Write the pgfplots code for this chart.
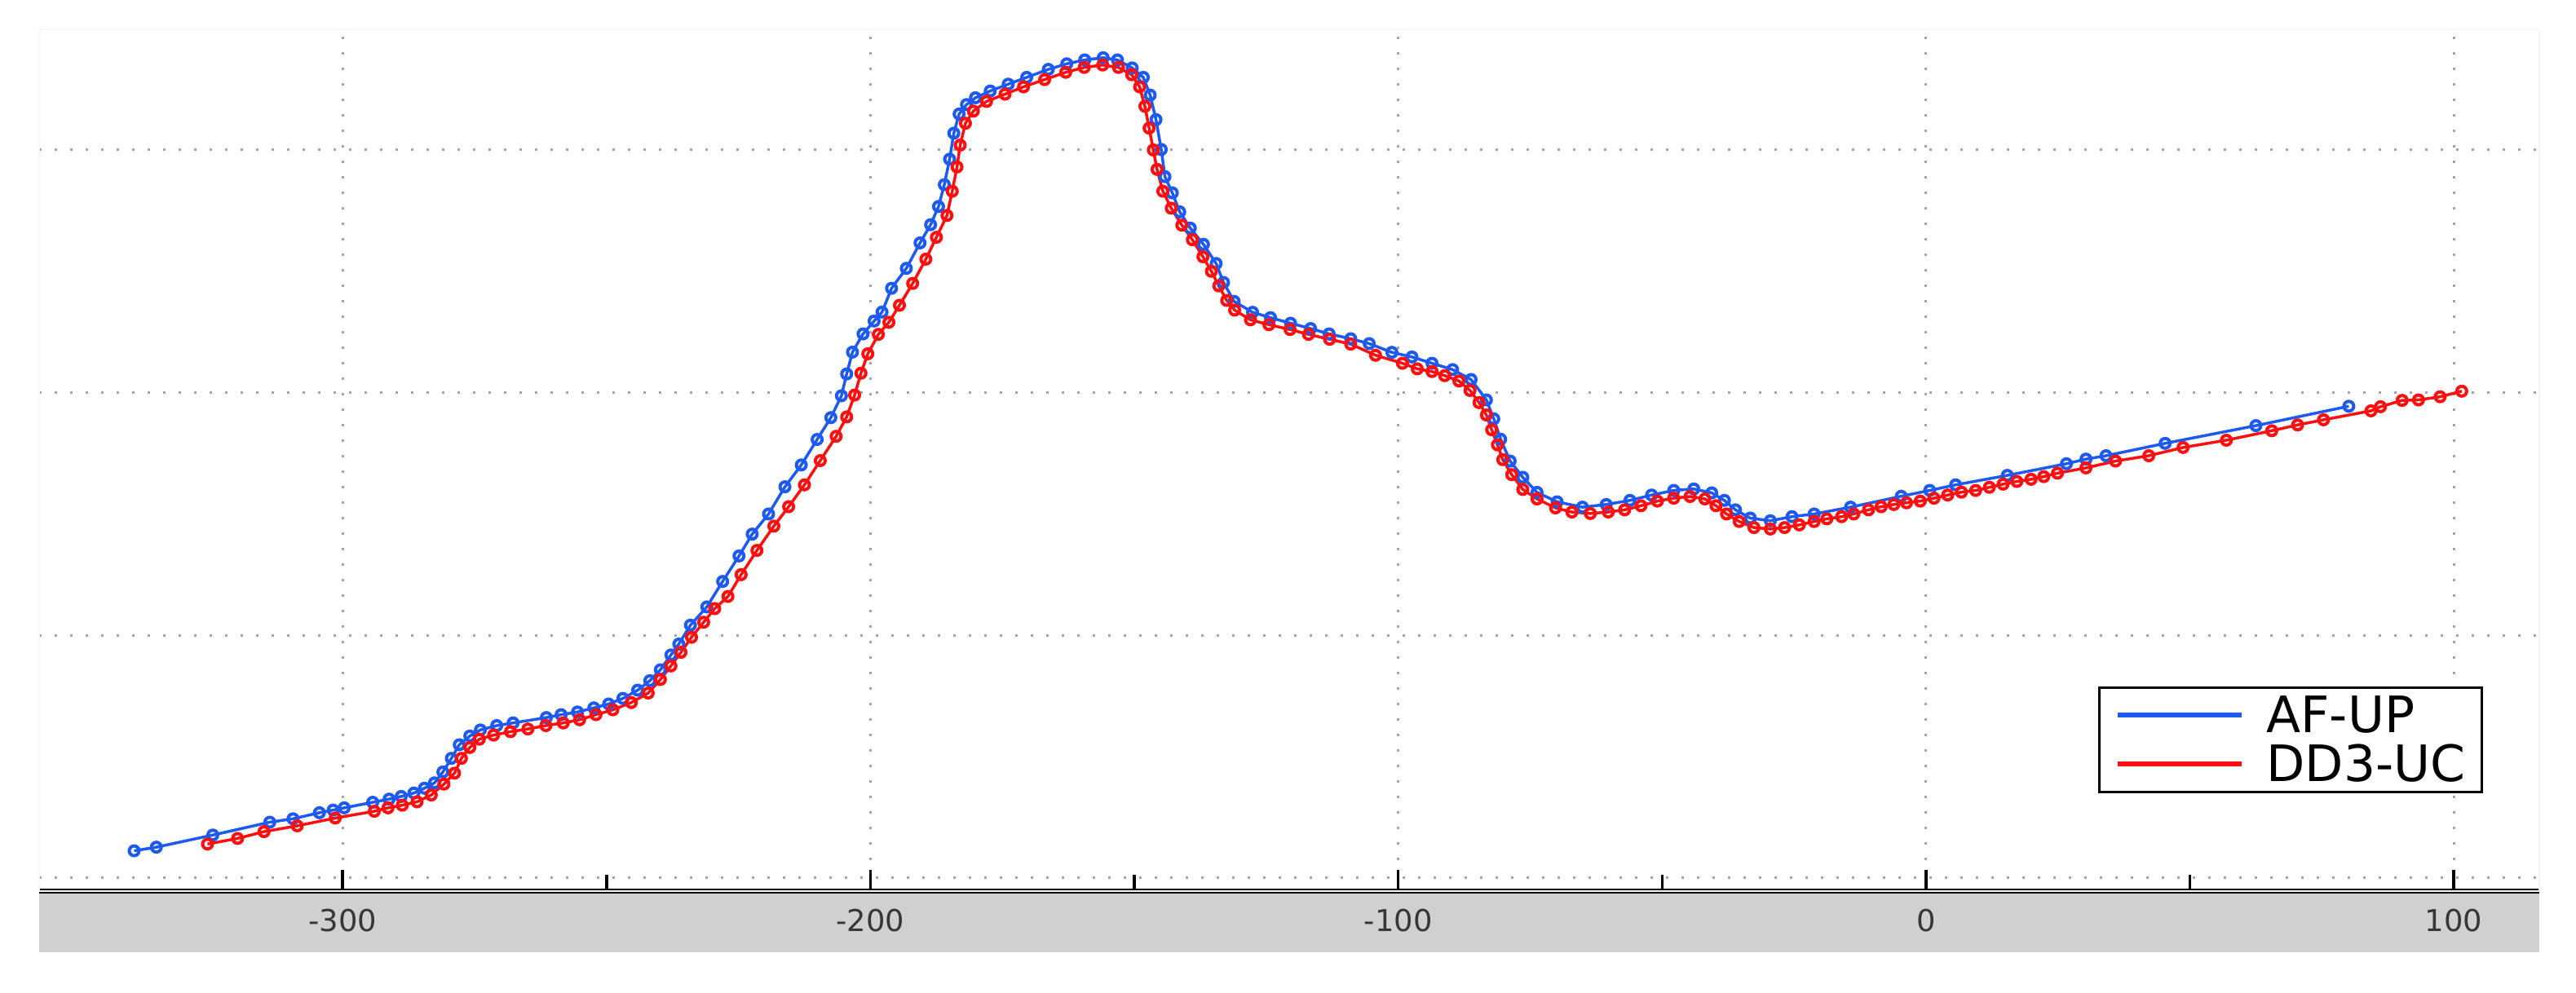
\documentclass[border=0pt]{standalone}
\usepackage{fontspec}
\setmainfont{DejaVu Sans}
\usepackage{pgfplots}
\usepackage{pgfplotstable}
\pgfplotsset{compat=1.18}

\definecolor{afblue}{RGB}{30,90,240}
\definecolor{ddred}{RGB}{255,15,15}
\definecolor{bandgray}{RGB}{208,208,208}
\definecolor{gridgray}{RGB}{165,165,165}
\definecolor{labelgray}{RGB}{55,55,55}

% AF-UP
\pgfplotstableread{
x y
-339.5 11.2
-335.3 12.7
-324.6 17.7
-313.8 23.0
-309.4 24.4
-304.4 26.9
-301.8 28.0
-299.7 28.9
-294.3 31.2
-291.2 32.5
-288.9 33.6
-286.5 35.0
-284.5 37.0
-282.6 39.2
-281.0 43.7
-279.4 49.3
-277.9 54.9
-275.9 58.5
-273.9 61.0
-270.8 62.8
-267.7 63.9
-261.4 66.1
-258.6 67.3
-255.5 68.4
-252.4 70.1
-249.6 71.7
-246.9 74.0
-244.1 77.4
-241.8 81.3
-239.8 85.8
-237.8 91.9
-236.3 96.4
-234.1 104.2
-231.0 111.7
-228.0 122.2
-224.9 132.7
-222.4 141.7
-219.3 150.0
-216.2 161.2
-213.1 170.2
-210.1 180.7
-207.5 189.7
-205.5 198.7
-204.5 207.7
-203.4 216.7
-201.4 224.2
-199.3 229.5
-197.8 233.2
-196.0 243.0
-193.2 251.2
-190.6 261.7
-188.6 269.2
-187.1 276.7
-186.0 285.7
-185.0 296.2
-184.2 306.9
-183.2 314.8
-181.8 318.7
-180.1 321.5
-177.3 324.3
-173.9 327.1
-170.4 329.9
-166.3 333.2
-162.8 335.5
-159.4 337.1
-155.9 338.0
-153.2 337.1
-150.4 333.8
-148.3 329.9
-147.0 322.6
-145.9 312.5
-144.9 300.2
-144.2 289.0
-142.8 282.3
-141.4 274.5
-139.4 267.8
-136.9 261.1
-134.5 253.2
-133.1 245.4
-131.1 237.6
-127.6 233.1
-124.2 230.9
-120.4 228.6
-116.6 226.4
-113.1 224.2
-109.0 222.2
-105.5 220.2
-101.2 216.6
-97.4 214.7
-93.6 212.1
-89.7 209.5
-86.2 205.4
-83.3 197.0
-81.9 189.2
-80.6 180.8
-78.8 171.8
-76.4 165.1
-73.7 158.9
-69.9 155.0
-65.1 152.8
-60.6 153.9
-56.1 155.6
-52.0 157.8
-47.8 159.7
-44.0 160.3
-40.6 158.7
-38.2 155.6
-36.1 151.7
-33.3 148.3
-29.5 147.2
-25.4 148.9
-21.2 150.0
-14.3 152.8
-4.7 157.3
0.7 159.7
5.6 162.0
15.4 165.9
26.6 170.7
30.3 172.6
34.1 174.0
45.3 179.1
62.5 186.4
80.1 194.4
}\afup

% DD3-UC
\pgfplotstableread{
x y
-325.6 14.0
-319.9 16.3
-314.9 19.1
-308.6 21.5
-301.4 24.7
-294.0 27.5
-291.4 28.9
-288.7 30.0
-285.9 31.4
-283.2 34.2
-280.8 38.7
-278.8 43.2
-277.5 49.3
-275.9 53.8
-274.1 57.2
-271.4 58.9
-268.2 60.3
-264.9 61.4
-261.5 62.8
-258.2 63.9
-255.1 65.2
-252.0 67.3
-248.8 69.3
-245.3 72.3
-242.1 76.2
-239.8 81.8
-237.8 87.4
-235.9 93.0
-233.9 99.2
-231.6 105.4
-229.5 111.0
-227.0 116.0
-224.5 125.0
-221.5 135.0
-218.3 145.0
-215.5 153.0
-212.5 162.0
-209.5 172.0
-206.5 182.0
-204.5 190.0
-203.0 199.0
-201.8 208.0
-200.5 216.0
-198.5 224.0
-196.5 229.0
-194.5 236.0
-192.0 245.0
-189.5 255.0
-187.5 264.0
-185.5 273.0
-184.5 283.0
-183.6 293.0
-183.0 302.0
-182.0 311.0
-180.5 316.0
-178.0 320.0
-174.5 323.0
-171.0 326.0
-167.0 329.0
-163.0 332.0
-159.5 334.0
-156.0 335.0
-153.0 334.0
-150.5 331.0
-149.0 326.0
-148.0 318.0
-147.2 309.0
-146.4 300.0
-145.7 292.0
-144.6 283.0
-143.0 276.0
-141.0 269.0
-139.0 263.0
-137.0 256.0
-135.4 250.0
-134.0 244.0
-132.5 238.0
-131.0 234.0
-128.0 230.0
-124.5 228.0
-120.5 226.0
-117.0 224.0
-113.0 222.0
-109.0 220.0
-104.3 215.4
-99.2 212.1
-96.4 209.8
-93.6 208.7
-91.2 207.0
-88.5 204.8
-86.4 200.9
-84.7 195.9
-83.3 190.8
-82.3 184.7
-81.2 178.5
-80.2 172.4
-78.5 166.2
-76.4 160.1
-73.7 156.2
-70.2 152.5
-67.1 150.8
-63.6 150.2
-60.2 150.8
-57.1 151.7
-54.0 153.4
-50.9 155.3
-47.8 156.5
-44.7 157.2
-41.9 156.2
-39.8 153.4
-37.8 150.0
-35.4 146.9
-32.6 144.4
-29.5 143.8
-26.8 144.4
-24.0 145.5
-21.2 146.9
-18.8 148.0
-16.0 148.9
-13.7 150.0
-10.9 151.7
-8.5 153.0
-6.1 153.9
-3.7 154.6
-1.1 155.3
1.5 156.5
4.1 157.8
6.7 159.0
9.4 159.7
12.0 161.0
14.6 162.3
17.2 163.4
19.9 164.3
22.3 165.4
24.9 166.8
30.3 169.0
35.9 171.8
42.2 174.0
48.7 177.4
56.9 180.4
65.5 184.3
70.4 186.7
75.3 188.8
84.3 192.5
86.1 194.2
90.2 196.8
93.3 197.0
97.4 198.3
101.5 200.6
}\ddthree

\begin{document}
\begin{tikzpicture}
\useasboundingbox (0,0) rectangle (31.59cm,12.17cm);
% grey band under the x axis
\fill[bandgray] (0.48cm,0.49cm) rectangle (31.14cm,1.24cm);
\begin{axis}[
    at={(0.48cm,1.24cm)}, anchor=south west,
    scale only axis,
    width=30.66cm, height=10.57cm,
    xmin=-357.5, xmax=116.2,
    ymin=-5.4, ymax=349.7,
    axis x line*=bottom,
    axis y line*=left,
    x axis line style={line width=0.6mm, black},
    y axis line style={draw=none},
    xtick={-300,-200,-100,0,100},
    xticklabels={-300,-200,-100,0,100},
    minor x tick num=1,
    tick align=inside,
    major tick length=0.26cm,
    minor tick length=0.2cm,
    xtick style={line width=0.35mm, black},
    ytick={0,100,200,300},
    yticklabels={},
    ytick style={draw=none},
    xmajorgrids, ymajorgrids,
    major grid style={gridgray, line width=0.3mm, dash pattern=on 0.3mm off 1.6mm},
    /pgf/number format/assume math mode=true,
    xticklabel style={anchor=center, yshift=-0.36cm, text=labelgray,
        font=\fontsize{10.5}{12}\selectfont},
    legend style={at={(0.8235,0.2375)}, anchor=north west,
        draw=black, line width=0.3mm, fill=white,
        font=\fontsize{17.5}{20}\selectfont,
        inner xsep=0.2cm, inner ysep=0.08cm, row sep=0.08cm,
        nodes={inner sep=0pt, text height=0.47cm, text depth=0.05cm},
        /tikz/every odd column/.append style={column sep=0.27cm}},
    legend cell align=left,
    legend image code/.code={\draw[line width=0.6mm] (0cm,0cm) -- (1.52cm,0cm);},
]
\addplot[afblue, line width=0.35mm, mark=o, mark size=0.6mm,
    mark options={line width=0.4mm}] table {\afup};
\addplot[ddred, line width=0.35mm, mark=o, mark size=0.6mm,
    mark options={line width=0.4mm}] table {\ddthree};
\legend{AF-UP, DD3-UC}
\end{axis}
% faint frame of the plot area
\draw[black!3, line width=0.2mm] (0.48cm,1.24cm) rectangle (31.14cm,11.81cm);
\end{tikzpicture}
\end{document}
